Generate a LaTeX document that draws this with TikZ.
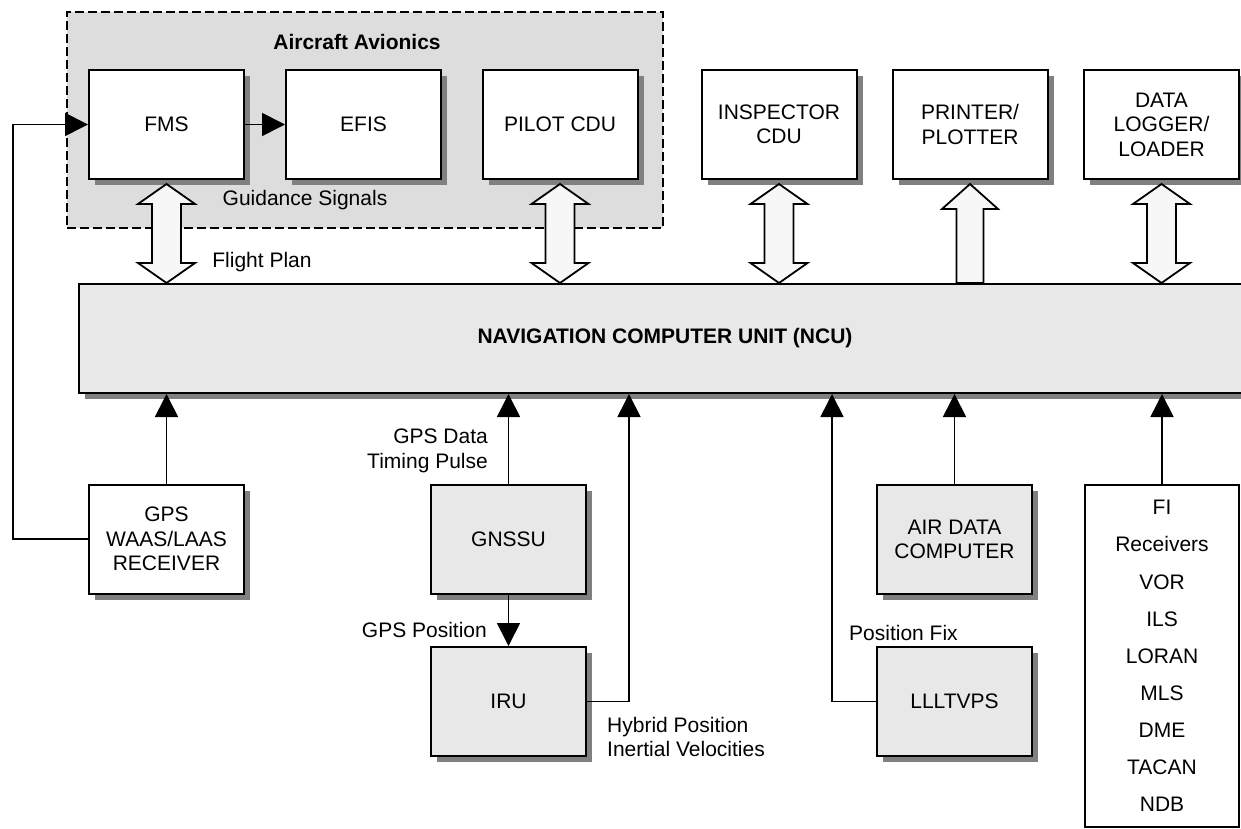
\documentclass[tikz,border=0pt]{standalone}
\usepackage{fontspec}
\setmainfont{Liberation Sans}
\usetikzlibrary{arrows.meta,shadows,calc}
\definecolor{shadowgray}{HTML}{808080}
\definecolor{boxgray}{HTML}{E8E8E8}
\definecolor{avgray}{HTML}{DDDDDD}
\definecolor{fatfill}{HTML}{F7F7F7}
\newcommand\fatboth[1]{%
  \draw[fat] let \p1=($(#1.south)+(0,4)$), \p2=($(ncu.north west)!(#1.south)!(ncu.north east)$) in
  (\x1,\y1) -- (\x1+28.5pt,\y1-20pt) -- (\x1+14.5pt,\y1-20pt) -- (\x1+14.5pt,\y2+20pt) -- (\x1+28.5pt,\y2+20pt) -- (\x1,\y2)
  -- (\x1-28.5pt,\y2+20pt) -- (\x1-14.5pt,\y2+20pt) -- (\x1-14.5pt,\y1-20pt) -- (\x1-28.5pt,\y1-20pt) -- cycle;}
\begin{document}
\begin{tikzpicture}[x=1pt,y=-1pt,
  every node/.style={font=\fontsize{21pt}{24.5pt}\selectfont, inner sep=0pt, align=center},
  box/.style={draw, line width=2pt, fill=white, minimum width=155pt, minimum height=109pt,
    drop shadow={shadow xshift=6pt,shadow yshift=-6pt,fill=shadowgray,opacity=1}},
  graybox/.style={box, fill=boxgray},
  conn/.style={line width=1.7pt, -{Triangle[width=23pt,length=23pt]}},
  fat/.style={draw, line width=1.8pt, fill=fatfill, line join=miter}]
\useasboundingbox (0,0) rectangle (1241,829);
\fill[white] (0,0) rectangle (1241,829);

% avionics group
\node[draw, dash pattern=on 9pt off 4pt, line width=1.7pt, fill=avgray, minimum width=596pt, minimum height=216pt] (avionics) at (365,120) {};
\node[font=\bfseries\fontsize{21pt}{24.5pt}\selectfont] (avtitle) at (357,42) {Aircraft Avionics};

% top boxes
\node[box] (fms) at (166.5,124.5) {FMS};
\node[box] (efis) at (363.5,124.5) {EFIS};
\node[box] (pilot) at (560,124.5) {PILOT CDU};
\node[box] (insp) at (779,124.5) {INSPECTOR\\CDU};
\node[box] (printer) at (970,124.5) {PRINTER/\\PLOTTER};
\node[box] (logger) at (1161.5,124.5) {DATA\\LOGGER/\\LOADER};

% NCU
\node[graybox, minimum width=1172pt, minimum height=109pt, font=\bfseries\fontsize{21pt}{24.5pt}\selectfont] (ncu) at (665,338.5) {NAVIGATION COMPUTER UNIT (NCU)};

% bottom boxes
\node[box] (gps) at (166.5,539) {GPS\\WAAS/LAAS\\RECEIVER};
\node[graybox] (gnssu) at (508.5,539.5) {GNSSU};
\node[graybox] (iru) at (508.5,701.5) {IRU};
\node[graybox] (adc) at (954.5,539.5) {AIR DATA\\COMPUTER};
\node[graybox] (lll) at (954.5,701.5) {LLLTVPS};
\node[draw, line width=2pt, fill=white, minimum width=154pt, minimum height=342pt,
  font=\fontsize{21pt}{37.1pt}\selectfont] (fi) at (1162,656) {FI\\Receivers\\VOR\\ILS\\LORAN\\MLS\\DME\\TACAN\\NDB};

% fat arrows
\fatboth{fms}
\fatboth{pilot}
\fatboth{insp}
\fatboth{logger}
\draw[fat] let \p1=($(printer.south)+(0,4)$), \p2=($(ncu.north west)!(printer.south)!(ncu.north east)$) in
  (\x1,\y1) -- (\x1+28pt,\y1-25pt) -- (\x1+13.5pt,\y1-25pt) -- (\x1+13.5pt,\y2) -- (\x1-13.5pt,\y2)
  -- (\x1-13.5pt,\y1-25pt) -- (\x1-28pt,\y1-25pt) -- cycle;

% connectors
\coordinate (fb) at (13,0);
\coordinate (hyb) at (629,0);
\coordinate (pfx) at (832,0);
\draw[conn] (fms) -- (efis);
\draw[conn] (gps.west) -| (fb |- fms.west) -- (fms.west);
\draw[conn] (gps.north) -- (gps.north |- ncu.south);
\draw[conn] (gnssu.north) -- (gnssu.north |- ncu.south);
\draw[conn] (gnssu.south) -- (iru.north);
\draw[conn] (iru.east) -| (hyb |- ncu.south);
\draw[conn] (lll.west) -| (pfx |- ncu.south);
\draw[conn] (adc.north) -- (adc.north |- ncu.south);
\draw[conn] (fi.north) -- (fi.north |- ncu.south);

% labels
\node (lguid) at (305,200) {Guidance Signals};
\node (lflight) at (262,262) {Flight Plan};
\node[anchor=east, align=right] (lgpsdata) at (488,451) {GPS Data\\Timing Pulse};
\node[anchor=east, align=right] (lgpspos) at (487,630) {GPS Position};
\node[anchor=west, align=left] (lhyb) at (607,737) {Hybrid Position\\Inertial Velocities};
\node[anchor=west] (lpf) at (849,633) {Position Fix};
\end{tikzpicture}
\end{document}
